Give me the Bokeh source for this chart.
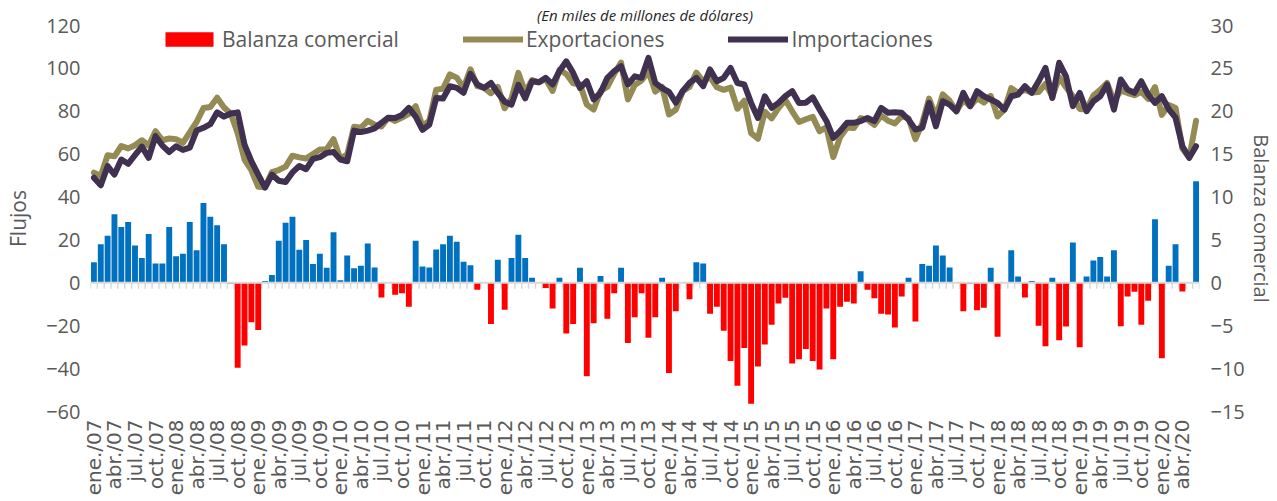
from math import pi
from bokeh.plotting import figure
from bokeh.models import (Range1d, LinearAxis, FixedTicker, Legend, LegendItem,
                          ColumnDataSource, Span)
from bokeh.embed import file_html
from bokeh.resources import INLINE

# Balanza comercial (right axis), monthly ene./07 .. jun./20
balance = [
    2.4, 4.5, 5.5, 8.0, 6.5, 7.1, 4.35, 2.9, 5.7, 2.25,
    2.25, 6.5, 3.1, 3.4, 7.1, 3.8, 9.3, 7.7, 6.7, 4.5,
    -0.1, -9.9, -7.3, -4.6, -5.5, 0.2, 0.9, 4.9, 7.0, 7.7,
    3.85, 5.0, 2.2, 3.4, 1.75, 5.9, 0.3, 3.2, 1.7, 2.0,
    4.6, 1.8, -1.7, 0.0, -1.4, -1.2, -2.8, 4.9, 1.9, 1.8,
    3.9, 4.5, 5.5, 4.8, 2.45, 2.05, -0.8, 0.0, -4.8, 2.7,
    -3.15, 2.9, 5.6, 2.9, 0.6, 0.0, -0.6, -3.0, 0.6, -5.9,
    -4.8, 1.75, -10.9, -4.7, 0.8, -4.2, -1.2, 1.75, -7.0, -4.0,
    -1.2, -6.4, -4.0, 0.6, -10.5, -3.3, 0.0, -1.9, 2.4, 2.25,
    -3.6, -2.8, -5.6, -9.1, -12.0, -7.6, -14.1, -9.75, -7.2, -4.9,
    -2.4, -1.75, -9.4, -8.9, -7.7, -9.1, -10.1, -3.0, -8.9, -2.8,
    -2.2, -2.4, 1.36, -0.8, -1.8, -3.6, -3.7, -5.2, -1.6, 0.6,
    -4.5, 2.2, 2.0, 4.35, 3.2, 1.8, 0.0, -3.3, -0.1, -3.2,
    -2.9, 1.75, -6.3, 0.0, 3.8, 0.75, -1.7, 0.2, -5.0, -7.4,
    0.6, -6.7, -5.1, 4.7, -7.5, 0.75, 2.6, 3.0, 0.75, 3.8,
    -5.05, -1.6, -1.05, -4.9, -2.1, 7.4, -8.8, 2.0, 4.5, -1.0,
    0.0, 11.85,
]

# Exportaciones (left axis)
exports = [
    51.4, 49.8, 59.5, 59.0, 63.8, 62.7, 64.2, 66.5, 64.0, 70.7,
    66.5, 67.3, 67.0, 65.3, 70.2, 75.0, 81.5, 82.0, 86.3, 81.8,
    78.9, 69.8, 57.5, 52.5, 44.8, 44.6, 51.6, 52.6, 54.2, 59.3,
    58.5, 58.0, 60.1, 62.2, 62.3, 67.0, 57.9, 59.9, 72.8, 72.3,
    75.5, 73.8, 72.9, 77.0, 75.5, 77.1, 78.8, 82.4, 73.2, 75.6,
    90.1, 90.5, 97.2, 95.7, 91.0, 99.6, 91.7, 90.9, 88.4, 91.3,
    81.4, 86.0, 97.9, 88.9, 94.6, 93.5, 95.0, 89.5, 99.3, 97.4,
    93.1, 92.6, 83.1, 80.8, 89.4, 91.4, 97.5, 102.7, 85.5, 92.3,
    94.4, 98.5, 89.2, 91.4, 78.5, 80.7, 89.4, 91.3, 98.0, 94.0,
    95.9, 91.2, 90.0, 91.1, 81.2, 84.9, 69.8, 67.2, 79.8, 76.7,
    81.5, 85.3, 80.0, 75.0, 76.3, 77.4, 70.7, 72.5, 58.7, 67.9,
    72.4, 72.2, 76.8, 76.1, 73.6, 78.0, 75.6, 74.3, 77.7, 76.7,
    67.0, 74.5, 85.9, 77.4, 87.9, 84.9, 80.0, 85.3, 82.3, 86.2,
    84.1, 87.2, 77.6, 80.8, 90.8, 88.6, 90.0, 88.8, 89.0, 92.8,
    86.8, 95.9, 91.2, 87.1, 81.1, 80.8, 87.3, 90.0, 93.2, 84.6,
    89.7, 88.5, 87.5, 89.1, 85.7, 91.3, 78.3, 83.0, 81.5, 62.7,
    58.3, 75.6,
]

# Importaciones (left axis)
imports = [
    49.0, 45.5, 54.4, 50.5, 57.5, 55.5, 59.5, 63.5, 58.3, 68.4,
    64.0, 61.0, 63.7, 62.0, 63.0, 71.0, 72.3, 74.0, 79.5, 77.5,
    79.0, 79.5, 64.5, 56.7, 50.5, 44.4, 50.5, 47.6, 47.0, 51.5,
    54.5, 53.0, 57.8, 58.6, 60.6, 61.0, 57.5, 56.7, 71.0, 70.3,
    71.0, 72.0, 74.6, 77.0, 76.9, 78.3, 81.6, 77.5, 71.3, 73.8,
    86.2, 86.0, 91.7, 90.9, 88.6, 97.5, 92.5, 90.9, 93.2, 88.6,
    84.5, 83.1, 92.3, 86.0, 94.0, 93.5, 95.6, 92.5, 98.7, 103.3,
    97.9, 90.9, 94.0, 85.5, 88.6, 95.6, 98.7, 101.0, 92.5, 96.3,
    95.6, 104.9, 93.2, 90.8, 89.0, 84.0, 89.4, 93.2, 95.6, 91.7,
    99.5, 94.0, 95.6, 100.2, 93.2, 92.5, 83.9, 76.9, 87.0, 81.6,
    83.9, 87.0, 89.4, 83.9, 84.0, 86.5, 80.8, 75.5, 67.6, 70.7,
    74.6, 74.6, 75.4, 76.9, 75.4, 81.6, 79.3, 79.5, 79.3, 76.1,
    71.5, 72.3, 83.9, 73.0, 84.7, 83.1, 80.0, 88.6, 82.4, 89.4,
    87.0, 85.5, 83.9, 80.8, 87.0, 87.8, 91.7, 88.6, 94.0, 100.2,
    86.2, 102.6, 96.3, 82.4, 88.6, 80.0, 84.7, 87.0, 92.5, 80.8,
    94.8, 90.1, 88.6, 94.0, 87.8, 83.9, 87.0, 81.0, 77.0, 63.7,
    58.3, 63.7,
]

tick_labels = [
    "ene./07", "abr./07", "jul./07", "oct./07",
    "ene./08", "abr./08", "jul./08", "oct./08",
    "ene./09", "abr./09", "jul./09", "oct./09",
    "ene./10", "abr./10", "jul./10", "oct./10",
    "ene./11", "abr./11", "jul./11", "oct./11",
    "ene./12", "abr./12", "jul./12", "oct./12",
    "ene./13", "abr./13", "jul./13", "oct./13",
    "ene./14", "abr./14", "jul./14", "oct./14",
    "ene./15", "abr./15", "jul./15", "oct./15",
    "ene./16", "abr./16", "jul./16", "oct./16",
    "ene./17", "abr./17", "jul./17", "oct./17",
    "ene./18", "abr./18", "jul./18", "oct./18",
    "ene./19", "abr./19", "jul./19", "oct./19",
    "ene./20", "abr./20",
]

TXT = "#595959"
n = len(balance)
xs = list(range(n))
src = ColumnDataSource(dict(x=xs, exp=exports, imp=imports))
pos = ColumnDataSource(dict(x=[i for i in xs if balance[i] >= 0],
                            v=[b for b in balance if b >= 0]))
neg = ColumnDataSource(dict(x=[i for i in xs if balance[i] < 0],
                            v=[b for b in balance if b < 0]))

W, H = 1277, 501
p = figure(width=W, height=H, output_backend="svg", toolbar_location=None,
           x_range=Range1d(-0.5, n - 0.5), y_range=Range1d(-60, 120),
           min_border_left=90, min_border_right=76, min_border_top=25,
           min_border_bottom=90)
p.extra_y_ranges = {"bal": Range1d(-15, 30)}
p.outline_line_color = None
p.xgrid.visible = False
p.ygrid.visible = False

# subtitle (only partly visible at the top of the reference)
p.title.text = "(En miles de millones de dólares)"
p.title.align = "center"
p.title.text_font = "Open Sans"
p.title.text_font_style = "italic"
p.title.text_font_size = "15px"
p.title.text_color = "#262626"
p.title.standoff = 2

ya = p.yaxis[0]
ya.ticker = FixedTicker(ticks=list(range(-60, 121, 20)))
ya.axis_label = "Flujos"

yr = LinearAxis(y_range_name="bal", ticker=FixedTicker(ticks=list(range(-15, 31, 5))),
                axis_label="Balanza comercial")
p.add_layout(yr, "right")

for ax in [ya, yr]:
    ax.axis_line_color = None
    ax.major_tick_line_color = None
    ax.minor_tick_line_color = None
    ax.major_tick_out = 0
    ax.major_tick_in = 0
    ax.minor_tick_out = 0
    ax.major_label_text_font = "Open Sans"
    ax.major_label_text_font_size = "20px"
    ax.major_label_text_color = TXT
    ax.axis_label_text_font = "Open Sans"
    ax.axis_label_text_font_size = "21px"
    ax.axis_label_text_font_style = "normal"
    ax.axis_label_text_color = TXT
ya.major_label_standoff = 10
ya.axis_label_standoff = 11
yr.major_label_standoff = 11
yr.axis_label_standoff = 0
yr.axis_label_text_font_size = "20px"

xa = p.xaxis[0]
tick_pos = list(range(0, n, 3))[:len(tick_labels)]
xa.ticker = FixedTicker(ticks=tick_pos)
xa.major_label_overrides = {t: lab for t, lab in zip(tick_pos, tick_labels)}
xa.major_label_orientation = pi / 2
xa.axis_line_color = None
xa.major_tick_line_color = None
xa.minor_tick_line_color = None
xa.major_tick_out = 0
xa.major_tick_in = 0
xa.minor_tick_out = 0
xa.major_label_text_font = "DejaVu Sans"
xa.major_label_text_font_size = "20px"
xa.major_label_text_color = TXT
xa.major_label_standoff = 8

# zero line with category tick marks
p.add_layout(Span(location=0, dimension="width", line_color="#D9D9D9", line_width=2))
bounds = [i - 0.5 for i in range(n + 1)]
p.segment(x0=bounds, y0=[0] * len(bounds), x1=bounds, y1=[-0.7] * len(bounds),
          y_range_name="bal", line_color="#D9D9D9", line_width=1.5)

# bars
p.vbar(x="x", top="v", bottom=0, width=0.86, fill_color="#0070C0", line_color=None,
       source=pos, y_range_name="bal")
r_bal = p.vbar(x="x", top="v", bottom=0, width=0.86, fill_color="#FF0000",
               line_color=None, source=neg, y_range_name="bal")

# lines
r_exp = p.line("x", "exp", source=src, line_color="#948A54", line_width=6,
               line_join="round", line_cap="round")
r_imp = p.line("x", "imp", source=src, line_color="#403151", line_width=6,
               line_join="round", line_cap="round")

legend = Legend(items=[LegendItem(label="Balanza comercial", renderers=[r_bal]),
                       LegendItem(label="Exportaciones", renderers=[r_exp]),
                       LegendItem(label="Importaciones", renderers=[r_imp])],
                orientation="horizontal", location=(69, 358),
                glyph_width=60, glyph_height=18, label_standoff=3, spacing=64,
                padding=0, margin=0, border_line_color=None, background_fill_alpha=0,
                label_text_font="Open Sans", label_text_font_size="21px",
                label_text_color=TXT)
p.add_layout(legend)

open("out.html", "w").write(file_html(p, INLINE))
